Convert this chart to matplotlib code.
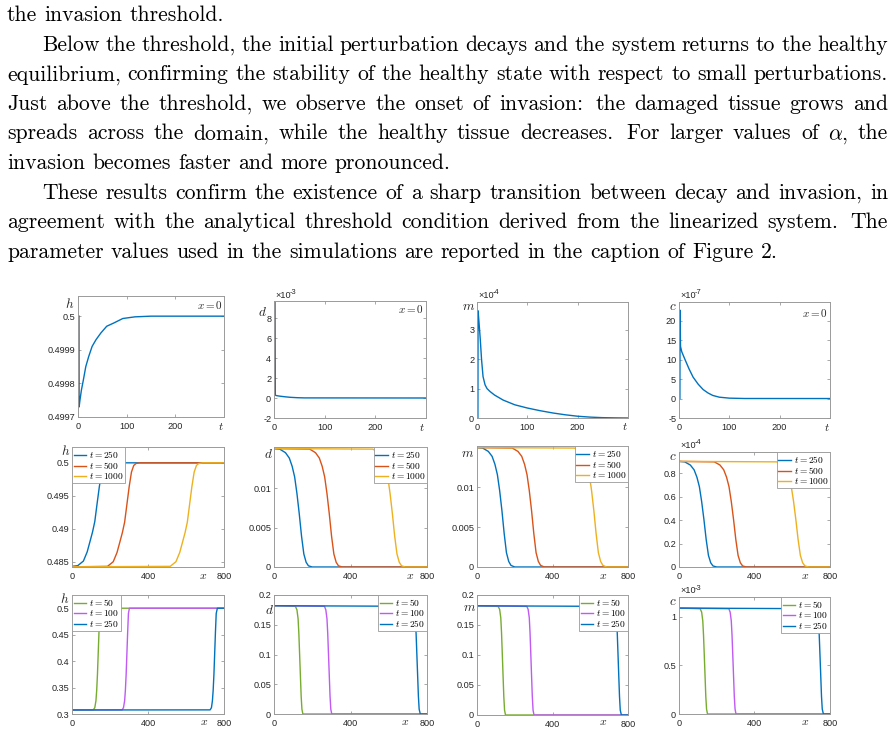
import matplotlib
matplotlib.use("Agg")
import matplotlib.pyplot as plt
from matplotlib.ticker import FuncFormatter

W, H = 895, 733
plt.rcParams['mathtext.fontset'] = 'cm'
plt.rcParams['font.family'] = ['Liberation Sans', 'DejaVu Sans']

# page text: (indent x, justified?, line)
page_lines = [
    (7, False, "the invasion threshold."),
    (42, True, "Below the threshold, the initial perturbation decays and the system returns to the healthy"),
    (7, True, "equilibrium, confirming the stability of the healthy state with respect to small perturbations."),
    (7, True, "Just above the threshold, we observe the onset of invasion: the damaged tissue grows and"),
    (7, True, r"spreads across the domain, while the healthy tissue decreases. For larger values of $\alpha$, the"),
    (7, False, "invasion becomes faster and more pronounced."),
    (42, True, "These results confirm the existence of a sharp transition between decay and invasion, in"),
    (7, True, "agreement with the analytical threshold condition derived from the linearized system. The"),
    (7, False, "parameter values used in the simulations are reported in the caption of Figure 2."),
]

# ---- row 1: time series at x = 0 ----
t_h1 = [2, 2.3, 4, 7, 11, 16, 22, 29, 37, 47, 59, 74, 92, 117, 150, 300]
h_x0 = [0.5, 0.49973, 0.49975, 0.49978, 0.49981, 0.49985, 0.49988, 0.49991,
        0.49993, 0.49995, 0.49997, 0.49998, 0.499993, 0.499998, 0.5, 0.5]
t_d1 = [2, 2.5, 4, 7, 12, 22, 32, 46, 60, 300]
d_x0 = [9.7, 0.3, 0.25, 0.22, 0.18, 0.12, 0.07, 0.03, 0.01, 0]          # x 1e-3
t_m1 = [1.8, 2.1, 3.8, 6.5, 9, 12, 16, 20, 26, 35, 52, 75, 100, 125, 151, 175,
        200, 225, 249, 275, 300]
m_x0 = [0, 3.65, 3.3, 2.68, 2.0, 1.41, 1.13, 1.0, 0.9, 0.78, 0.61, 0.45,
        0.34, 0.25, 0.17, 0.11, 0.06, 0.03, 0.012, 0.004, 0]              # x 1e-4
t_c1 = [1.8, 2.1, 3, 5.5, 12, 20, 28, 38, 48, 58, 67, 80, 100, 130, 300]
c_x0 = [0, 22.7, 13.4, 12.0, 10.0, 7.6, 5.5, 3.7, 2.3, 1.4, 0.8, 0.35, 0.1, 0.01, 0]  # x 1e-7

# ---- row 2: profiles at t = 250, 500, 1000 ----
times2 = ["250", "500", "1000"]
x_250 = [0, 30, 60, 80, 95, 108, 120, 132, 144, 156, 168, 180, 200, 800]
x_500 = [0, 187, 217, 237, 252, 265, 277, 289, 301, 313, 325, 337, 357, 800]
x_1000 = [0, 517, 547, 567, 582, 595, 607, 619, 631, 643, 655, 667, 687, 800]
h2_first = [0.4843, 0.4844, 0.4851, 0.4865, 0.4881, 0.4895, 0.4911, 0.4938,
            0.4964, 0.4986, 0.4996, 0.4999, 0.5, 0.5]
h2_later = [0.48422, 0.4843, 0.4850, 0.4864, 0.4880, 0.4894, 0.4910, 0.4937,
            0.4964, 0.4986, 0.4996, 0.4999, 0.5, 0.5]
d2 = [0.0150, 0.01493, 0.01448, 0.0138, 0.01275, 0.0114, 0.0093, 0.00675,
      0.0039, 0.00165, 0.0006, 0.00015, 0, 0]
m2 = [0.0150, 0.01494, 0.01452, 0.0139, 0.0129, 0.0116, 0.0096, 0.0071,
      0.0042, 0.0018, 0.0007, 0.0002, 0, 0]
c2 = [0.9, 0.896, 0.869, 0.828, 0.765, 0.684, 0.558, 0.405, 0.234, 0.099,
      0.036, 0.009, 0, 0]                                                  # x 1e-4

# ---- row 3: profiles at t = 50, 100, 250 ----
times3 = ["50", "100", "250"]
x_50 = [0, 112, 120, 126, 130, 134, 138, 142, 146, 151, 800]
x_100 = [0, 264, 271, 277, 281, 285, 289, 293, 297, 302, 800]
x_250b = [0, 727, 734, 739, 743, 747, 751, 755, 759, 765, 800]
h3 = [0.3076, 0.3078, 0.312, 0.325, 0.345, 0.375, 0.415, 0.455, 0.49, 0.5, 0.5]
d3 = [0.182, 0.181, 0.175, 0.16, 0.135, 0.1, 0.065, 0.03, 0.008, 0, 0]
m3 = [0.182, 0.181, 0.176, 0.162, 0.137, 0.102, 0.066, 0.031, 0.008, 0, 0]
c3 = [1.086, 1.08, 1.045, 0.955, 0.805, 0.6, 0.39, 0.18, 0.05, 0, 0]     # x 1e-3

cols2 = ['#0072BD', '#D95319', '#EDB120']
cols3 = ['#77AC30', '#BF5AF2', '#0072BD']
EDGE = '#9a9a9a'
INK = '#262626'
LW = 1.0

fig = plt.figure(figsize=(W / 100, H / 100), dpi=100)
renderer = fig.canvas.get_renderer()


def ptext(x, y, s, **kw):
    return fig.text(x / W, 1 - y / H, s, **kw)


def panel(box, xlim, xticks, ylim, yticks):
    l, t, r, b = box
    ax = fig.add_axes([l / W, 1 - b / H, (r - l) / W, (b - t) / H])
    ax.set_xlim(*xlim)
    ax.set_ylim(*ylim)
    ax.set_xticks(xticks)
    ax.set_yticks(yticks)
    fmt = FuncFormatter(lambda v, p: f"{round(v, 6):g}")
    ax.xaxis.set_major_formatter(fmt)
    ax.yaxis.set_major_formatter(fmt)
    for sp in ax.spines.values():
        sp.set_color(EDGE)
        sp.set_linewidth(0.7)
    ax.tick_params(direction='in', length=2.5, width=0.6, color=EDGE,
                   top=True, right=True, labelsize=6.6, labelcolor=INK)
    ax.tick_params(axis='x', pad=3.5)
    ax.tick_params(axis='y', pad=2)
    return ax


def legend(ax, loc):
    lg = ax.legend(loc=loc, frameon=True, fancybox=False, edgecolor=EDGE,
                   framealpha=1, borderaxespad=0, handlelength=1.3,
                   handletextpad=0.3, labelspacing=0.0, borderpad=0.2,
                   fontsize=6.8)
    lg.get_frame().set_linewidth(0.6)


def offset(x, y, e):
    ptext(x, y, '×10', fontsize=6.6, color=INK, va='baseline')
    ptext(x + 15, y - 3.5, e, fontsize=5.3, color=INK, va='baseline')


def mlabel(x, y, s, size=9.5, ha='center'):
    ptext(x, y, s, fontsize=size, ha=ha, va='center', color=INK)


# ---------------- row 1 ----------------
t_ticks = [0, 100, 200]
ax = panel((78, 296, 224, 417), (0, 300), t_ticks, (0.4997, 0.50006),
           [0.4997, 0.4998, 0.4999, 0.5])
ax.plot(t_h1, h_x0, color=cols2[0], lw=LW)
mlabel(70, 304, '$h$')
mlabel(223, 305, '$x = 0$', 8, 'right')
mlabel(221, 427, '$t$', 8.5)

ax = panel((274, 301, 426, 418), (0, 300), t_ticks, (-2, 9.7), [-2, 0, 2, 4, 6, 8])
ax.plot(t_d1, d_x0, color=cols2[0], lw=LW)
mlabel(262, 312, '$d$')
mlabel(424, 309, '$x = 0$', 8, 'right')
mlabel(422, 428, '$t$', 8.5)
offset(275, 298, '-3')

ax = panel((477, 302, 628, 418), (0, 300), t_ticks, (0, 3.95), [0, 1, 2, 3])
ax.plot(t_m1, m_x0, color=cols2[0], lw=LW)
mlabel(469, 307, '$m$')
mlabel(625, 427, '$t$', 8.5)
offset(478, 298, '-4')

ax = panel((679, 302, 830, 418), (0, 300), t_ticks, (-5, 24.8), [-5, 0, 5, 10, 15, 20])
ax.plot(t_c1, c_x0, color=cols2[0], lw=LW)
mlabel(673, 307, '$c$')
mlabel(828, 313, '$x = 0$', 8, 'right')
mlabel(827, 428, '$t$', 8.5)
offset(680, 298, '-7')

# ---------------- row 2 ----------------
x_ticks = [0, 400, 800]
xs2 = [x_250, x_500, x_1000]

ax = panel((72, 447, 224, 567), (0, 800), x_ticks, (0.4842, 0.5024),
           [0.485, 0.49, 0.495, 0.5])
for xv, yv, c, lab in zip(xs2, [h2_first, h2_later, h2_later], cols2, times2):
    ax.plot(xv, yv, color=c, lw=LW, label=f'$t = {lab}$')
legend(ax, 'upper left')
mlabel(66, 451, '$h$')
mlabel(203, 576, '$x$', 8.5)

for box, vals, lab, lx, ly, xl in [((274, 447, 427, 567), d2, '$d$', 268, 454, 410),
                                    ((477, 446, 628, 567), m2, '$m$', 468, 454, 603)]:
    ax = panel(box, (0, 800), x_ticks, (0, 0.0152), [0, 0.005, 0.01])
    for xv, c, t in zip(xs2, cols2, times2):
        ax.plot(xv, vals, color=c, lw=LW, label=f'$t = {t}$')
    legend(ax, 'upper right')
    mlabel(lx, ly, lab)
    mlabel(xl, 576, '$x$', 8.5)

ax = panel((679, 452, 830, 567), (0, 800), x_ticks, (0, 0.98), [0, 0.2, 0.4, 0.6, 0.8])
for xv, c, t in zip(xs2, cols2, times2):
    ax.plot(xv, c2, color=c, lw=LW, label=f'$t = {t}$')
legend(ax, 'upper right')
mlabel(673, 457, '$c$')
mlabel(805, 576, '$x$', 8.5)
offset(680, 448, '-4')

# ---------------- row 3 ----------------
xs3 = [x_50, x_100, x_250b]

ax = panel((72, 595, 224, 714), (0, 800), x_ticks, (0.3, 0.525),
           [0.3, 0.35, 0.4, 0.45, 0.5])
for xv, c, t in zip(xs3, cols3, times3):
    ax.plot(xv, h3, color=c, lw=LW, label=f'$t = {t}$')
legend(ax, 'upper left')
mlabel(65, 599, '$h$')
mlabel(204, 722, '$x$', 8.5)

for box, vals, lab, lx, ly, xl in [((274, 595, 427, 714), d3, '$d$', 269, 610, 405),
                                    ((477, 595, 628, 715), m3, '$m$', 470, 608, 603)]:
    ax = panel(box, (0, 800), x_ticks, (0, 0.2), [0, 0.05, 0.1, 0.15, 0.2])
    for xv, c, t in zip(xs3, cols3, times3):
        ax.plot(xv, vals, color=c, lw=LW, label=f'$t = {t}$')
    legend(ax, 'upper right')
    mlabel(lx, ly, lab)
    mlabel(xl, 722, '$x$', 8.5)

ax = panel((679, 597, 830, 714), (0, 800), x_ticks, (0, 1.2), [0, 0.5, 1])
for xv, c, t in zip(xs3, cols3, times3):
    ax.plot(xv, c3, color=c, lw=LW, label=f'$t = {t}$')
legend(ax, 'upper right')
mlabel(673, 602, '$c$')
mlabel(805, 722, '$x$', 8.5)
offset(680, 593, '-3')

# ---------------- page text, justified ----------------
RIGHT = 888
LAST_END = 776


def measure(word, fs):
    t = fig.text(0, 0, word, fontsize=fs, family='cmr10')
    w = t.get_window_extent(renderer).width
    t.remove()
    return w


def space(fs):
    return fs * 100 / 72 * 0.333


probe = page_lines[-1][2].split()
nat = sum(measure(w, 10) for w in probe) + (len(probe) - 1) * space(10)
FS = 10 * (LAST_END - 7) / nat

for i, (x0, just, line) in enumerate(page_lines):
    y = 21 + 29.6 * i
    words = line.split()
    widths = [measure(w, FS) for w in words]
    weights = [1.4 if w[-1] in '.:' else 1.0 for w in words[:-1]]
    if just:
        unit = (RIGHT - x0 - sum(widths)) / sum(weights)
    else:
        unit = space(FS)
    x = x0
    for k, w in enumerate(words):
        ptext(x, y, w, fontsize=FS, family='cmr10', va='baseline', color='black')
        if k < len(weights):
            x += widths[k] + unit * weights[k]

fig.savefig('out.png', dpi=100)
